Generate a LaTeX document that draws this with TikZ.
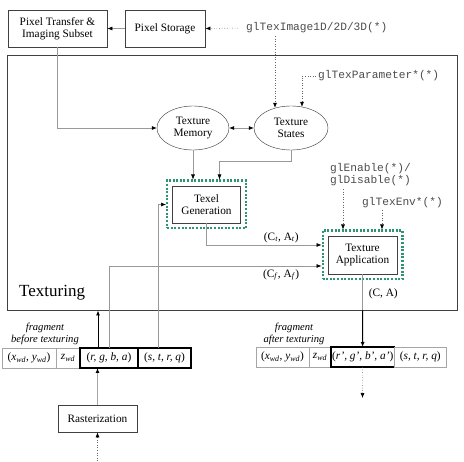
\documentclass[tikz,border=0pt]{standalone}
\usepackage{fontspec}
\setmainfont{Liberation Serif}
\setmonofont{Liberation Mono}
\usetikzlibrary{arrows.meta,shapes.geometric,fit}

\definecolor{framegreen}{RGB}{46,150,110}
\newcommand\sub[1]{\textsubscript{\textit{#1}}}

\begin{document}
\begin{tikzpicture}[x=1pt,y=-1pt,
        font=\fontsize{11.3}{12.5}\selectfont,
        >={Latex[length=5pt,width=4pt,color=black]},
        box/.style={draw=black!75,line width=0.8pt,align=center,inner sep=2pt},
        state/.style={draw=black!80,ellipse,align=center,inner sep=1pt},
        flow/.style={draw=black!40,line width=0.6pt,->},
        feed/.style={draw=black,line width=1pt,->},
        call/.style={draw=black!60,dotted,line width=0.6pt,->},
        gl/.style={font=\ttfamily\fontsize{11.2}{12}\selectfont,text=black!70,inner sep=2pt},
        greenframe/.style={draw=framegreen,line width=2.2pt,dash pattern=on 2pt off 1.6pt,inner sep=5pt},
        cell/.style={draw=black!35,line width=0.6pt,minimum height=20,inner sep=1pt,outer sep=0pt,font=\fontsize{11.3}{12}\selectfont},
        cellon/.style={cell,draw=black,line width=1.1pt},
        note/.style={font=\itshape\fontsize{10.6}{11.5}\selectfont,align=center,inner sep=0pt}]

    \useasboundingbox (0,0) rectangle (464,462);

    \node[box,minimum width=99,minimum height=37] (transfer) at (57.5,28.5) {Pixel Transfer \&\\Imaging Subset};
    \node[box,minimum width=80,minimum height=37] (storage) at (165,28.5) {Pixel Storage};
    \node[gl,anchor=west] (teximage) at (244,28) {glTexImage1D/2D/3D(*)};

    \node[draw=black!75,line width=0.8pt,minimum width=450,minimum height=255,inner sep=0pt] (texturing) at (232,182.5) {};
    \node[font=\fontsize{17}{20}\selectfont,anchor=west,inner sep=0pt] (texlabel) at (19,293) {Texturing};

    \node[state,minimum width=72,minimum height=44] (memory) at (193,128) {Texture\\Memory};
    \node[state,minimum width=74,minimum height=44] (states) at (291,128) {Texture\\States};
    \node[gl,anchor=west] (texparam) at (316,76) {glTexParameter*(*)};

    \node[box,minimum width=68,minimum height=37] (texel) at (206.5,204.5) {Texel\\Generation};
    \node[greenframe,fit=(texel)] (texelframe) {};

    \node[gl,anchor=west,align=left] (enable) at (328,175) {glEnable(*)/\\glDisable(*)};
    \node[gl,anchor=west] (texenv) at (360,203) {glTexEnv*(*)};
    \node[box,minimum width=69,minimum height=38] (apply) at (362.5,255) {Texture\\Application};
    \node[greenframe,fit=(apply)] (applyframe) {};

    \node[note] (before) at (45,334) {fragment\\before texturing};
    \node[cell,minimum width=54] (bxy) at (29,358) {(\textit{x}\sub{wd}, \textit{y}\sub{wd})};
    \node[cell,minimum width=24,anchor=west] (bz) at (bxy.east) {\textit{z}\sub{wd}};
    \node[cellon,minimum width=58,anchor=west] (brgba) at (bz.east) {(\textit{r, g, b, a})};
    \node[cellon,minimum width=53,anchor=west] (bstq) at (brgba.east) {(\textit{s, t, r, q})};

    \node[box,minimum width=79,minimum height=27] (raster) at (97.5,418.5) {Rasterization};
    \coordinate (rasterin) at (97.5,461);

    \node[note] (after) at (294,334) {fragment\\after texturing};
    \node[cell,minimum width=53] (axy) at (282.5,357) {(\textit{x}\sub{wd}, \textit{y}\sub{wd})};
    \node[cell,minimum width=22,anchor=west] (az) at (axy.east) {\textit{z}\sub{wd}};
    \node[cellon,minimum width=63,anchor=west] (argba) at (az.east) {(\textit{r', g', b', a'})};
    \node[cell,minimum width=52,anchor=west] (astq) at (argba.east) {(\textit{s, t, r, q})};
    \coordinate (aout) at (362.5,398);

    \coordinate (imgdrop) at (275,36);
    \coordinate (enabledrop) at (343,189);
    \coordinate (envdrop) at (382,210);

    \draw[call,shorten <=6pt] (teximage.west) -- (storage.east);
    \draw[flow] (storage) -- (transfer);
    \draw[flow] (transfer.south) |- (memory.west);
    \draw[flow,<->] (memory) -- (states);
    \draw[call] (imgdrop) -- ([xshift=-16pt,yshift=-2pt]states.north);
    \draw[call] (texparam.west) -| ([xshift=11pt,yshift=-1pt]states.north);

    \draw[flow] (memory.south) -- (memory.south |- texelframe.north);
    \draw[flow] (states.south) -- ++(0,11) -| ([xshift=13pt]texelframe.north);
    \draw[flow] (texel.south) |- ([yshift=10pt]applyframe.west)
        node[pos=0.825,above,inner sep=2pt] {(C\sub{t}, A\sub{t})};
    \draw[flow] (brgba.north) |- ([yshift=-11pt]applyframe.west)
        node[pos=0.905,below,inner sep=3pt] {(C\sub{f}, A\sub{f})};
    \draw[flow] ([xshift=-6pt]bstq.north) |- (texelframe.west);
    \draw[call] (enabledrop) -- (enabledrop |- applyframe.north);
    \draw[call] (envdrop) -- (envdrop |- applyframe.north);

    \draw[flow,-] (apply.south) -- (apply.south |- texturing.south)
        node[pos=0.55,right,inner sep=6pt] {(C, A)};
    \draw[feed] (apply.south |- texturing.south) -- (argba.north);
    \draw[call] (argba.south) -- (aout);

    \draw[feed] ([xshift=-11pt]brgba.north) -- ([xshift=-11pt]brgba.north |- texturing.south);
    \draw[draw=black!35,line width=1.4pt,->] (raster.north) -- (raster.north |- brgba.south);
    \draw[call] (rasterin) -- (raster.south);

\end{tikzpicture}
\end{document}
